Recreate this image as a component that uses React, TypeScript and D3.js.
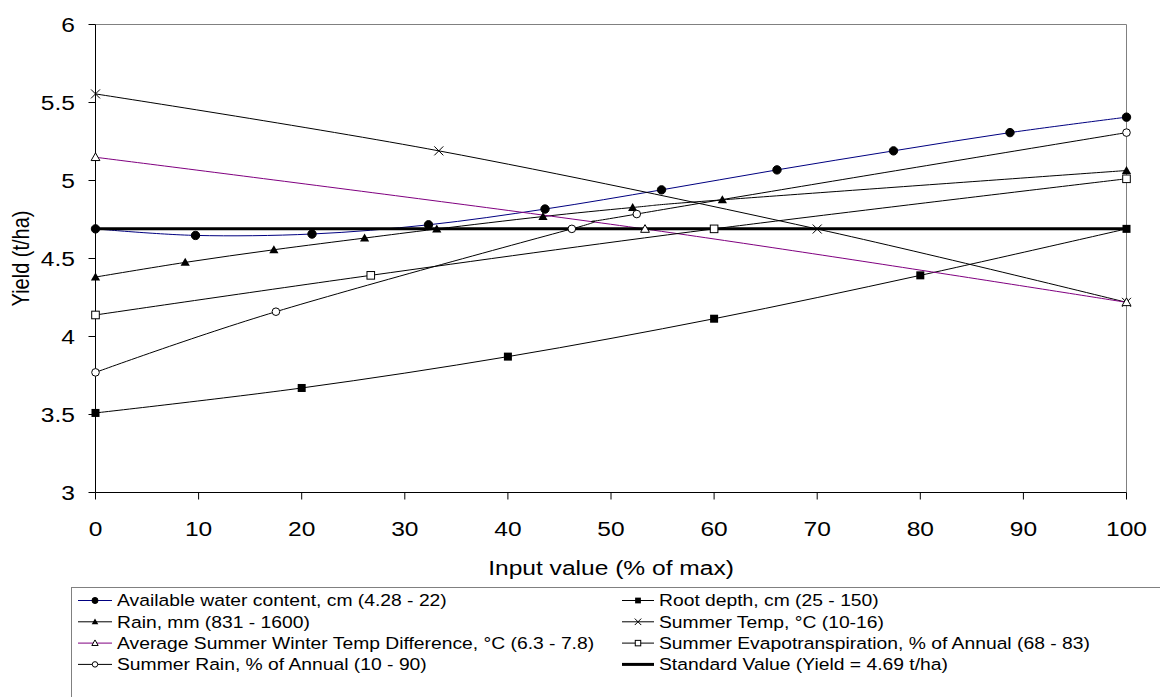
import React from "react";
import * as d3 from "d3";

const xTicks = [0, 10, 20, 30, 40, 50, 60, 70, 80, 90, 100];
const yTicks = [3, 3.5, 4, 4.5, 5, 5.5, 6];
const yTickLabels = ["3", "3.5", "4", "4.5", "5", "5.5", "6"];

const awcX = [0, 9.7, 21.0, 32.3, 43.6, 54.9, 66.1, 77.4, 88.7, 100];
const awcY = [4.69, 4.648, 4.657, 4.716, 4.817, 4.94, 5.068, 5.19, 5.307, 5.406];

const rootX = [0, 20, 40, 60, 80, 100];
const rootY = [3.51, 3.67, 3.871, 4.114, 4.392, 4.69];

const rainX = [0, 8.7, 17.3, 26.1, 33.1, 43.4, 52.1, 60.8, 100];
const rainY = [4.381, 4.475, 4.556, 4.631, 4.689, 4.769, 4.827, 4.876, 5.064];

const tempX = [0, 33.3, 70, 100];
const tempY = [5.555, 5.19, 4.689, 4.219];

const diffX = [0, 53.3, 100];
const diffY = [5.149, 4.689, 4.219];

const evapX = [0, 26.7, 60, 100];
const evapY = [4.138, 4.392, 4.69, 5.011];

const srainX = [0, 17.5, 46.2, 52.5, 100];
const srainY = [3.77, 4.159, 4.69, 4.785, 5.307];

const stdX = [0, 100];
const stdY = [4.69, 4.69];

type Marker = "circleFill" | "squareFill" | "triFill" | "cross" | "triOpen" | "squareOpen" | "circleOpen" | "none";

interface Series {
  name: string;
  xs: number[];
  ys: number[];
  color: string;
  marker: Marker;
  width: number;
  smooth: boolean;
}

const series: Series[] = [
  { name: "Available water content, cm (4.28 - 22)", xs: awcX, ys: awcY, color: "#000080", marker: "circleFill", width: 1, smooth: true },
  { name: "Root depth, cm (25 - 150)", xs: rootX, ys: rootY, color: "#000000", marker: "squareFill", width: 1, smooth: true },
  { name: "Rain, mm (831 - 1600)", xs: rainX, ys: rainY, color: "#000000", marker: "triFill", width: 1, smooth: true },
  { name: "Summer Temp, °C (10-16)", xs: tempX, ys: tempY, color: "#000000", marker: "cross", width: 1, smooth: true },
  { name: "Average Summer Winter Temp Difference, °C (6.3 - 7.8)", xs: diffX, ys: diffY, color: "#800080", marker: "triOpen", width: 1, smooth: true },
  { name: "Summer Evapotranspiration, % of Annual (68 - 83)", xs: evapX, ys: evapY, color: "#000000", marker: "squareOpen", width: 1, smooth: true },
  { name: "Summer Rain, % of Annual (10 - 90)", xs: srainX, ys: srainY, color: "#000000", marker: "circleOpen", width: 1, smooth: true },
  { name: "Standard Value (Yield = 4.69 t/ha)", xs: stdX, ys: stdY, color: "#000000", marker: "none", width: 3, smooth: false },
];

const FONT = "'Liberation Sans', Arial, sans-serif";
const STRETCH = 1.17;

function SText({
  x,
  y,
  size,
  anchor = "start",
  children,
}: {
  x: number;
  y: number;
  size: number;
  anchor?: "start" | "middle" | "end";
  children: React.ReactNode;
}) {
  return (
    <text
      transform={`translate(${x},${y}) scale(${STRETCH},1)`}
      dy="0.35em"
      textAnchor={anchor}
      fontSize={size}
      fill="#000"
    >
      {children}
    </text>
  );
}

function MarkerShape({ type, x, y, s }: { type: Marker; x: number; y: number; s: number }) {
  switch (type) {
    case "circleFill":
      return <circle cx={x} cy={y} r={4.2 * s} fill="#000" stroke="#000" strokeWidth={1} />;
    case "circleOpen":
      return <circle cx={x} cy={y} r={3.8 * s} fill="#fff" stroke="#000" strokeWidth={1} />;
    case "squareFill":
      return <rect x={x - 4 * s} y={y - 4 * s} width={8 * s} height={8 * s} fill="#000" />;
    case "squareOpen":
      return <rect x={x - 3.8 * s} y={y - 3.8 * s} width={7.6 * s} height={7.6 * s} fill="#fff" stroke="#000" strokeWidth={1} />;
    case "triFill": {
      const h = 4.6 * s;
      return <path d={`M${x},${y - h} L${x + h},${y + h * 0.75} L${x - h},${y + h * 0.75} Z`} fill="#000" />;
    }
    case "triOpen": {
      const h = 4.4 * s;
      return <path d={`M${x},${y - h} L${x + h},${y + h * 0.75} L${x - h},${y + h * 0.75} Z`} fill="#fff" stroke="#000" strokeWidth={1} />;
    }
    case "cross": {
      const h = 4.5 * s;
      return <path d={`M${x - h},${y - h} L${x + h},${y + h} M${x - h},${y + h} L${x + h},${y - h}`} stroke="#000" strokeWidth={1} fill="none" />;
    }
    default:
      return null;
  }
}

export default function App() {
  const W = 1160;
  const H = 697;
  const x = d3.scaleLinear().domain([0, 100]).range([95.5, 1126.5]);
  const y = d3.scaleLinear().domain([3, 6]).range([492.5, 24.5]);

  const lineSmooth = d3
    .line<[number, number]>()
    .x((d) => x(d[0]))
    .y((d) => y(d[1]))
    .curve(d3.curveCardinal.tension(0));
  const lineStraight = d3
    .line<[number, number]>()
    .x((d) => x(d[0]))
    .y((d) => y(d[1]));

  const pts = (s: Series) => s.xs.map((v, i) => [v, s.ys[i]] as [number, number]);

  const legendRows = [600.5, 621.8, 643.1, 664.4];
  const legendLayout = series.map((s, i) => {
    const col = i % 2;
    const row = Math.floor(i / 2);
    return {
      s,
      y: legendRows[row],
      x0: col === 0 ? 78 : 622,
      x1: col === 0 ? 112 : 654,
      tx: col === 0 ? 117 : 659,
    };
  });

  const x0 = x(0);
  const x100 = x(100);
  const yTop = y(6);
  const yBot = y(3);

  return (
    <div style={{ position: "absolute", left: 0, top: 0, width: W, height: H, background: "#fff" }}>
      <svg width={W} height={H} style={{ display: "block", fontFamily: FONT }}>
        <rect x={0} y={0} width={W} height={H} fill="#fff" />
        {/* plot border */}
        <line x1={x0} y1={yTop} x2={x100} y2={yTop} stroke="#808080" strokeWidth={1} />
        <line x1={x100} y1={yTop} x2={x100} y2={yBot} stroke="#808080" strokeWidth={1} />

        {/* series lines */}
        {series
          .filter((s) => s.marker !== "none")
          .map((s) => (
            <path
              key={s.name}
              d={(s.smooth ? lineSmooth : lineStraight)(pts(s)) || ""}
              fill="none"
              stroke={s.color}
              strokeWidth={s.width}
            />
          ))}
        {series
          .filter((s) => s.marker === "none")
          .map((s) => (
            <path key={s.name} d={lineStraight(pts(s)) || ""} fill="none" stroke={s.color} strokeWidth={s.width} />
          ))}

        {/* axes */}
        <line x1={x0} y1={yTop} x2={x0} y2={yBot} stroke="#000" strokeWidth={1} />
        <line x1={x0} y1={yBot} x2={x100} y2={yBot} stroke="#000" strokeWidth={1} />
        {yTicks.map((t, i) => (
          <g key={"yt" + t}>
            <line x1={x0 - 7} y1={y(t)} x2={x0} y2={y(t)} stroke="#000" strokeWidth={1} />
            <SText x={75} y={y(t)} size={21} anchor="end">
              {yTickLabels[i]}
            </SText>
          </g>
        ))}
        {xTicks.map((t) => (
          <g key={"xt" + t}>
            <line x1={x(t)} y1={yBot} x2={x(t)} y2={yBot + 7} stroke="#000" strokeWidth={1} />
            <SText x={x(t)} y={529} size={21} anchor="middle">
              {t}
            </SText>
          </g>
        ))}

        {/* markers */}
        {series.map((s) =>
          s.xs.map((v, i) => <MarkerShape key={s.name + i} type={s.marker} x={x(v)} y={y(s.ys[i])} s={1} />)
        )}

        {/* axis titles */}
        <SText x={(x0 + x100) / 2} y={568} size={21} anchor="middle">
          Input value (% of max)
        </SText>
        <text
          transform={`translate(21,${(yTop + yBot) / 2}) rotate(-90) scale(1,${STRETCH})`}
          dy="0.35em"
          textAnchor="middle"
          fontSize={20}
          fill="#000"
        >
          Yield (t/ha)
        </text>

        {/* legend */}
        <rect x={71.5} y={587.5} width={1200} height={200} fill="#fff" stroke="#808080" strokeWidth={1} />
        {legendLayout.map((l) => (
          <g key={"lg" + l.s.name}>
            <line x1={l.x0} y1={l.y} x2={l.x1} y2={l.y} stroke={l.s.color} strokeWidth={l.s.width} />
            <MarkerShape type={l.s.marker} x={(l.x0 + l.x1) / 2} y={l.y} s={0.72} />
            <SText x={l.tx} y={l.y} size={16.5}>
              {l.s.name}
            </SText>
          </g>
        ))}
      </svg>
    </div>
  );
}
